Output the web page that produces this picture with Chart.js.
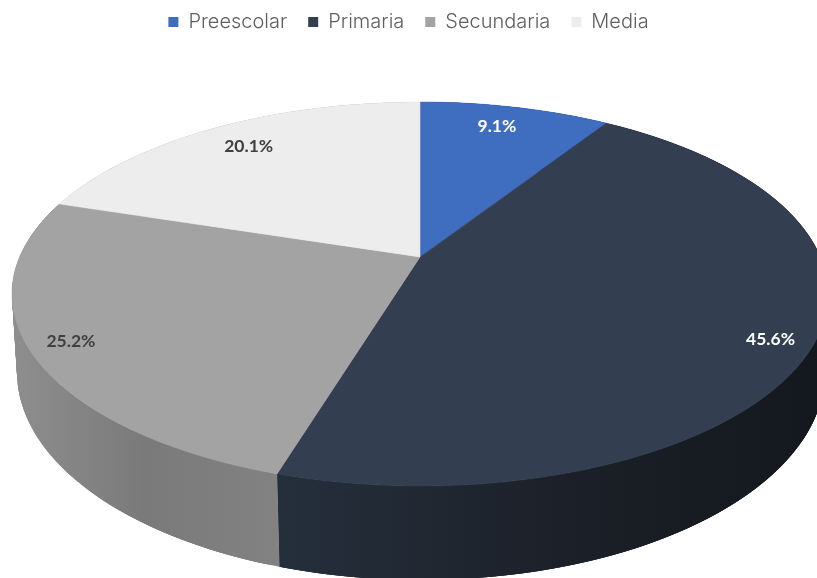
<!DOCTYPE html>
<html>
<head>
<meta charset="utf-8">
<style>
  html, body { margin: 0; padding: 0; background: #fff; overflow: hidden; }
  canvas { display: block; }
</style>
<script src="https://cdn.jsdelivr.net/npm/chart.js@4"></script>
</head>
<body>
<canvas id="pie" width="817" height="578"></canvas>
<script>
const categories = ["Preescolar", "Primaria", "Secundaria", "Media"];
const shares = [9.1, 45.6, 25.2, 20.1];
const topColors = ["#3f6dbf", "#333f50", "#a3a3a3", "#ededed"];
const labelColors = ["#ffffff", "#ffffff", "#404040", "#404040"];
const labelRadius = [0.85, 0.905, 0.905, 0.834];
const labelTurn = [-1.2, 2.2, 0, 0.7];
const wallColors = [
  ["#2f5597", "#2f5597"],
  ["#252f3c", "#1c2129", "#13171e"],
  ["#8e8e8e", "#7a7a7a", "#828282"],
  ["#b0b0b0", "#b0b0b0"]
];

// the face is a tilted disc, so the pie centre sits above the middle of the ellipse
const topRim = { cx: 420, cy: 294, rx: 408, ry: 192 };
const bottomRim = { cx: 421, cy: 372, rx: 404, ry: 208 };
const tilt = -0.193;

function project(rim, angle, r) {
  const u = r * Math.cos(angle);
  const v = r * Math.sin(angle);
  const d = 1 + tilt * v;
  return {
    x: rim.cx + rim.rx * u * Math.sqrt(1 - tilt * tilt) / d,
    y: rim.cy + rim.ry * (v + tilt) / d
  };
}

function rimPoints(rim, from, to) {
  const pts = [];
  const steps = Math.max(8, Math.ceil((to - from) * 60));
  for (let i = 0; i <= steps; i++) {
    pts.push(project(rim, from + (to - from) * i / steps, 1));
  }
  return pts;
}

const pie3d = {
  id: "pie3d",
  beforeDatasetDraw(chart) {
    const ctx = chart.ctx;
    const arcs = chart.getDatasetMeta(0).data;

    // side wall, swept as overlapping quads so the silhouette joins both rims without seams
    arcs.forEach((arc, i) => {
      const top = rimPoints(topRim, arc.startAngle, arc.endAngle);
      const bottom = rimPoints(bottomRim, arc.startAngle, arc.endAngle);
      const xs = top.concat(bottom).map(p => p.x);
      const grad = ctx.createLinearGradient(Math.min(...xs), 0, Math.max(...xs), 0);
      wallColors[i].forEach((c, k) => grad.addColorStop(k / (wallColors[i].length - 1), c));
      ctx.fillStyle = grad;
      for (let k = 0; k < top.length - 1; k++) {
        const next = Math.min(k + 3, top.length - 1);
        ctx.beginPath();
        ctx.moveTo(top[k].x, top[k].y);
        ctx.lineTo(top[next].x, top[next].y);
        ctx.lineTo(bottom[next].x, bottom[next].y);
        ctx.lineTo(bottom[k].x, bottom[k].y);
        ctx.closePath();
        ctx.fill();
      }
    });

    const apex = project(topRim, 0, 0);
    arcs.forEach((arc, i) => {
      ctx.beginPath();
      ctx.moveTo(apex.x, apex.y);
      rimPoints(topRim, arc.startAngle, arc.endAngle).forEach(p => ctx.lineTo(p.x, p.y));
      ctx.closePath();
      ctx.fillStyle = topColors[i];
      ctx.strokeStyle = topColors[i];
      ctx.lineWidth = 0.5;
      ctx.fill();
      ctx.stroke();
    });

    ctx.save();
    ctx.letterSpacing = "0px";
    ctx.font = "bold 17.5px Lato";
    ctx.textAlign = "center";
    ctx.textBaseline = "middle";
    arcs.forEach((arc, i) => {
      const mid = (arc.startAngle + arc.endAngle) / 2 + labelTurn[i] * Math.PI / 180;
      const p = project(topRim, mid, labelRadius[i]);
      ctx.fillStyle = labelColors[i];
      ctx.fillText(shares[i].toFixed(1) + "%", p.x, p.y);
    });
    ctx.restore();
    return false;
  }
};

const canvas = document.getElementById("pie");
canvas.getContext("2d").letterSpacing = "0.6px";

new Chart(canvas, {
  type: "pie",
  data: {
    labels: categories,
    datasets: [{ data: shares, backgroundColor: topColors, borderWidth: 0 }]
  },
  options: {
    responsive: false,
    animation: false,
    layout: { padding: { top: -9 } },
    plugins: {
      legend: {
        position: "top",
        labels: {
          boxWidth: 10,
          boxHeight: 10,
          padding: 21,
          color: "#5f5f5f",
          font: { family: "Inter", size: 20, weight: 300 }
        }
      },
      tooltip: { enabled: false }
    }
  },
  plugins: [pie3d]
});
</script>
</body>
</html>
